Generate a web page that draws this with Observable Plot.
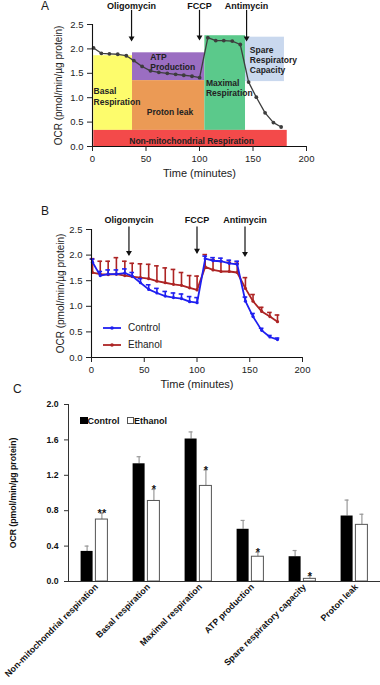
<!DOCTYPE html>
<html><head><meta charset="utf-8">
<script src="https://cdn.jsdelivr.net/npm/d3@7"></script>
<script src="https://cdn.jsdelivr.net/npm/@observablehq/plot@0.6"></script>
<style>
body{margin:0;background:#fff;font-family:"Liberation Sans",Arial,Helvetica,sans-serif;color:#1a1a1a;}
#wrap{position:relative;width:380px;height:685px;overflow:hidden;background:#fff;}
.panel{position:absolute;left:0;}
.letter{position:absolute;font-size:12px;line-height:12px;}
.abs{position:absolute;white-space:nowrap;}
</style></head><body><div id="wrap"></div><script>
const FONT = '"Liberation Sans", Arial, Helvetica, sans-serif';

// ---- shared measurement times (minutes)
const times = [1, 8.3, 15.8, 23.6, 31.6, 38.6, 46.4, 54.2, 62, 69.9, 77.7, 85.3, 93, 100.1, 107.8, 115.2, 122.7, 130.6, 138.1, 145.9, 153.1, 161.3, 169.1, 176.3];

// ---- Panel A
const ocrA = [2.02, 1.91, 1.90, 1.89, 1.86, 1.76, 1.64, 1.55, 1.52, 1.50, 1.48, 1.46, 1.44, 1.41, 2.23, 2.17, 2.17, 2.16, 2.09, 1.32, 1.01, 0.69, 0.49, 0.40];
const boxNames = ["Basal Respiration", "ATP Production", "Proton leak", "Maximal Respiration", "Spare Respiratory Capacity", "Non-mitochondrial Respiration"];
const boxStart = [1.2, 37.4, 37.4, 105, 143, 1.2];
const boxEnd = [37.4, 105, 105, 143, 179.4, 182];
const boxLow = [0.33, 1.35, 0.33, 0.33, 1.33, 0];
const boxHigh = [1.86, 1.92, 1.35, 2.27, 2.24, 0.33];
const boxColors = ["#fdfc6c", "#9b6ec2", "#eb9a55", "#5bc98b", "#c9d8ee", "#f34a4a"];
const boxLabelText = ["Basal\nRespiration", "ATP\nProduction", "Proton leak", "Maximal\nRespiration", "Spare\nRespiratory\nCapacity", "Non-mitochondrial Respiration"];
const boxLabelX = [1, 54, 72.4, 106, 147, 92.6];
const boxLabelY = [1.03, 1.735, 0.70, 1.20, 1.78, 0.11];
const boxLabelAnchor = ["start", "start", "middle", "start", "start", "middle"];

const injNames = ["Oligomycin", "FCCP", "Antimycin"];
const injTimeA = [36.5, 100, 144];
const injTipA = [2.17, 2.19, 2.17];
const injTimeB = [35.5, 100, 145.5];
const injTipB = [2.0, 2.04, 1.98];

// ---- Panel B
const ctrlB = [1.86, 1.60, 1.63, 1.63, 1.65, 1.59, 1.46, 1.33, 1.26, 1.20, 1.17, 1.15, 1.09, 1.07, 1.93, 1.89, 1.88, 1.84, 1.82, 1.10, 0.80, 0.53, 0.40, 0.35];
const ctrlBSE = [0.06, 0.08, 0.08, 0.08, 0.08, 0.07, 0.08, 0.09, 0.09, 0.09, 0.09, 0.09, 0.10, 0.10, 0.05, 0.06, 0.06, 0.06, 0.06, 0.08, 0.06, 0.04, 0.03, 0.03];
const ethB = [1.66, 1.63, 1.62, 1.63, 1.60, 1.58, 1.56, 1.54, 1.49, 1.46, 1.43, 1.41, 1.36, 1.32, 1.77, 1.71, 1.68, 1.68, 1.66, 1.35, 1.10, 0.90, 0.80, 0.70];
const ethBSE = [0.27, 0.25, 0.26, 0.32, 0.28, 0.26, 0.27, 0.28, 0.30, 0.29, 0.29, 0.25, 0.24, 0.27, 0.24, 0.20, 0.20, 0.18, 0.18, 0.21, 0.13, 0.08, 0.08, 0.13];

// ---- Panel C
const catNames = ["Non-mitochondrial respiration", "Basal respiration", "Maximal respiration", "ATP production", "Spare respiratory capacity", "Proton leak"];
const ctrlC = [0.34, 1.33, 1.61, 0.59, 0.28, 0.74];
const ctrlCSE = [0.06, 0.08, 0.08, 0.10, 0.07, 0.18];
const ethC = [0.70, 0.91, 1.08, 0.28, 0.03, 0.64];
const ethCSE = [0.07, 0.13, 0.18, 0.05, 0.035, 0.12];
const starsC = ["**", "*", "*", "*", "*", ""];

const ticks05 = [0, 0.5, 1, 1.5, 2, 2.5];
const xTicks = [0, 50, 100, 150, 200];
const yLabel = "OCR (pmol/min/µg protein)";

// ---------- build tables
const boxes = boxNames.map((n, i) => ({n, x1: boxStart[i], x2: boxEnd[i], y1: boxLow[i], y2: boxHigh[i], c: boxColors[i]}));
const boxLabels = boxLabelText.map((t, i) => ({t, x: boxLabelX[i], y: boxLabelY[i], a: boxLabelAnchor[i]}));
const ptsA = times.map((t, i) => ({t, v: ocrA[i]}));
const injA = injNames.map((n, i) => ({n, t: injTimeA[i], tip: injTipA[i]}));
const injB = injNames.map((n, i) => ({n, t: injTimeB[i], tip: injTipB[i]}));
const ctrlRowsB = times.map((t, i) => ({t, v: ctrlB[i], se: ctrlBSE[i]}));
const ethRowsB = times.map((t, i) => ({t, v: ethB[i], se: ethBSE[i]}));
const ctrlRowsC = catNames.map((c, i) => ({c, v: ctrlC[i], se: ctrlCSE[i]}));
const ethRowsC = catNames.map((c, i) => ({c, v: ethC[i], se: ethCSE[i], s: starsC[i]}));

const wrap = document.getElementById("wrap");
function place(node, top) {
  const d = document.createElement("div");
  d.className = "panel"; d.style.top = top + "px";
  d.appendChild(node); wrap.appendChild(d);
}

function injectionMarks(inj, labelY, startY) {
  return [
    Plot.ruleX(inj, {x: "t", y1: startY, y2: "tip", stroke: "#111", strokeWidth: 1.2}),
    Plot.dot(inj, {x: "t", y: "tip", symbol: "triangle", rotate: 180, r: 2.2, fill: "#111", stroke: null, dy: -2.5}),
    Plot.text(inj, {x: "t", y: labelY, text: "n", fontWeight: "bold", fontSize: 9, fill: "#111"})
  ];
}

// ---------- Panel A
const plotA = Plot.plot({
  width: 380, height: 185,
  marginLeft: 92, marginRight: 74, marginTop: 24, marginBottom: 39,
  style: {fontFamily: FONT, color: "#222", background: "transparent", overflow: "visible"},
  x: {domain: [0, 200]},
  y: {domain: [0, 2.5]},
  color: {type: "identity"},
  marks: [
    Plot.rect(boxes, {x1: "x1", x2: "x2", y1: "y1", y2: "y2", fill: "c"}),
    Plot.text(boxLabels.filter(d => d.a === "start"), {x: "x", y: "y", text: "t", textAnchor: "start", fontWeight: "bold", fontSize: 8.5, lineHeight: 1.21, fill: "#222"}),
    Plot.text(boxLabels.filter(d => d.a === "middle"), {x: "x", y: "y", text: "t", textAnchor: "middle", fontWeight: "bold", fontSize: 8.5, fill: "#222"}),
    Plot.line(ptsA, {x: "t", y: "v", stroke: "#3d3d3d", strokeWidth: 1.3}),
    Plot.dot(ptsA, {x: "t", y: "v", r: 1.9, fill: "#3d3d3d", stroke: null}),
    ...injectionMarks(injA, 2.87, 2.79),
    Plot.ruleX([0], {stroke: "#111", strokeWidth: 1.1}),
    Plot.ruleY([0], {stroke: "#111", strokeWidth: 1.1}),
    Plot.axisX({ticks: xTicks, tickSize: 5, fontSize: 9.5, label: null}),
    Plot.axisY({ticks: ticks05, tickSize: 5, tickFormat: ".1f", fontSize: 9.5, label: null}),
    Plot.text(["Time (minutes)"], {frameAnchor: "bottom", textAnchor: "middle", dy: 30, fontSize: 11, fill: "#222"}),
    Plot.text([yLabel], {frameAnchor: "left", textAnchor: "middle", rotate: -90, dx: -34, fontSize: 10, fill: "#222"})
  ]
});
place(plotA, 0);

// ---------- Panel B
const capHalf = 2.2;
function seriesMarks(rows, color) {
  return [
    Plot.ruleX(rows, {x: "t", y1: "v", y2: d => d.v + d.se, stroke: color, strokeWidth: 1.6}),
    Plot.ruleY(rows, {x1: d => d.t - capHalf, x2: d => d.t + capHalf, y: d => d.v + d.se, stroke: color, strokeWidth: 1.6}),
    Plot.line(rows, {x: "t", y: "v", stroke: color, strokeWidth: 1.8}),
    Plot.dot(rows, {x: "t", y: "v", r: 1.6, fill: color, stroke: null})
  ];
}
const BLUE = "#1f1ff0", RED = "#ad2424";
const plotB = Plot.plot({
  width: 380, height: 198,
  marginLeft: 91, marginRight: 78, marginTop: 34, marginBottom: 36,
  style: {fontFamily: FONT, color: "#222", background: "transparent", overflow: "visible"},
  x: {domain: [0, 200]},
  y: {domain: [0, 2.5]},
  marks: [
    ...seriesMarks(ethRowsB, RED),
    ...seriesMarks(ctrlRowsB, BLUE),
    ...injectionMarks(injB, 2.68, 2.55),
    Plot.ruleX([0], {stroke: "#111", strokeWidth: 1.1}),
    Plot.ruleY([0], {stroke: "#111", strokeWidth: 1.1}),
    Plot.axisX({ticks: xTicks, tickSize: 5, fontSize: 9.5, label: null}),
    Plot.axisY({ticks: ticks05, tickSize: 5, tickFormat: ".1f", fontSize: 9.5, label: null}),
    Plot.text(["Time (minutes)"], {frameAnchor: "bottom", textAnchor: "middle", dy: 30, fontSize: 11, fill: "#222"}),
    Plot.text([yLabel], {frameAnchor: "left", textAnchor: "middle", rotate: -90, dx: -31, fontSize: 10, fill: "#222"})
  ]
});
place(plotB, 195);

// ---------- Panel C
const BW = 7.4;
const plotC = Plot.plot({
  width: 380, height: 292,
  marginLeft: 68, marginRight: 0, marginTop: 11, marginBottom: 104,
  style: {fontFamily: FONT, color: "#111", background: "transparent", overflow: "visible"},
  x: {domain: catNames, paddingInner: 0.77, paddingOuter: 0.385},
  y: {domain: [0, 2]},
  marks: [
    Plot.ruleX(ctrlRowsC, {x: "c", y1: "v", y2: d => d.v + d.se, stroke: "#999", strokeWidth: 1.2, dx: -BW}),
    Plot.tickY(ctrlRowsC, {x: "c", y: d => d.v + d.se, stroke: "#999", strokeWidth: 1.2, dx: -BW, insetLeft: 4, insetRight: 4}),
    Plot.ruleX(ethRowsC, {x: "c", y1: "v", y2: d => d.v + d.se, stroke: "#999", strokeWidth: 1.2, dx: BW}),
    Plot.tickY(ethRowsC, {x: "c", y: d => d.v + d.se, stroke: "#999", strokeWidth: 1.2, dx: BW, insetLeft: 4, insetRight: 4}),
    Plot.barY(ctrlRowsC, {x: "c", y: "v", fill: "#000", dx: -BW}),
    Plot.barY(ethRowsC, {x: "c", y: "v", fill: "#fff", stroke: "#555", strokeWidth: 1, dx: BW}),
    Plot.text(ethRowsC, {x: "c", y: d => d.v + d.se, text: "s", dx: BW, dy: 4, lineAnchor: "bottom", fontWeight: "bold", fontSize: 11}),
    Plot.ruleY([0], {stroke: "#333", strokeWidth: 1}),
    Plot.frame({anchor: "left", stroke: "#333"}),
    Plot.axisY({ticks: [0, 0.4, 0.8, 1.2, 1.6, 2.0], tickFormat: ".1f", tickSize: 4, tickPadding: 6, fontSize: 8.7, fontWeight: "bold", label: null, stroke: "#333"}),
    Plot.axisX({tickRotate: -45, tickSize: 0, tickPadding: 4, fontSize: 8.9, fontWeight: "bold", label: null, dx: 2}),
    Plot.text([yLabel], {frameAnchor: "left", textAnchor: "middle", rotate: -90, dx: -55, fontSize: 8.7, fontWeight: "bold"})
  ]
});
place(plotC, 393);

// ---------- letters & legends
function addHTML(html) { wrap.insertAdjacentHTML("beforeend", html); }
addHTML(`<div class="letter" style="left:41px;top:0px">A</div>`);
addHTML(`<div class="letter" style="left:41px;top:205px">B</div>`);
addHTML(`<div class="letter" style="left:13px;top:383px">C</div>`);
// legend B
const legB = [["Control", BLUE, 328], ["Ethanol", RED, 345]];
legB.forEach(([name, col, y]) => {
  addHTML(`<svg class="abs" style="left:102px;top:${y - 4}px" width="20" height="8"><line x1="1" x2="19" y1="4" y2="4" stroke="${col}" stroke-width="1.8"/><circle cx="10" cy="4" r="1.8" fill="${col}"/></svg>`);
  addHTML(`<div class="abs" style="left:128px;top:${y - 6}px;font-size:10px;line-height:12px;color:#222">${name}</div>`);
});
// legend C
addHTML(`<div class="abs" style="left:80px;top:416px;font-size:9px;line-height:11px;font-weight:bold;color:#111">
<span style="display:inline-block;width:5.5px;height:5.5px;background:#000;border:0.5px solid #000;vertical-align:0px"></span>Control
<span style="display:inline-block;width:5px;height:5px;background:#fff;border:0.8px solid #555;margin-left:5px;vertical-align:0px"></span>Ethanol</div>`);
</script></body></html>
